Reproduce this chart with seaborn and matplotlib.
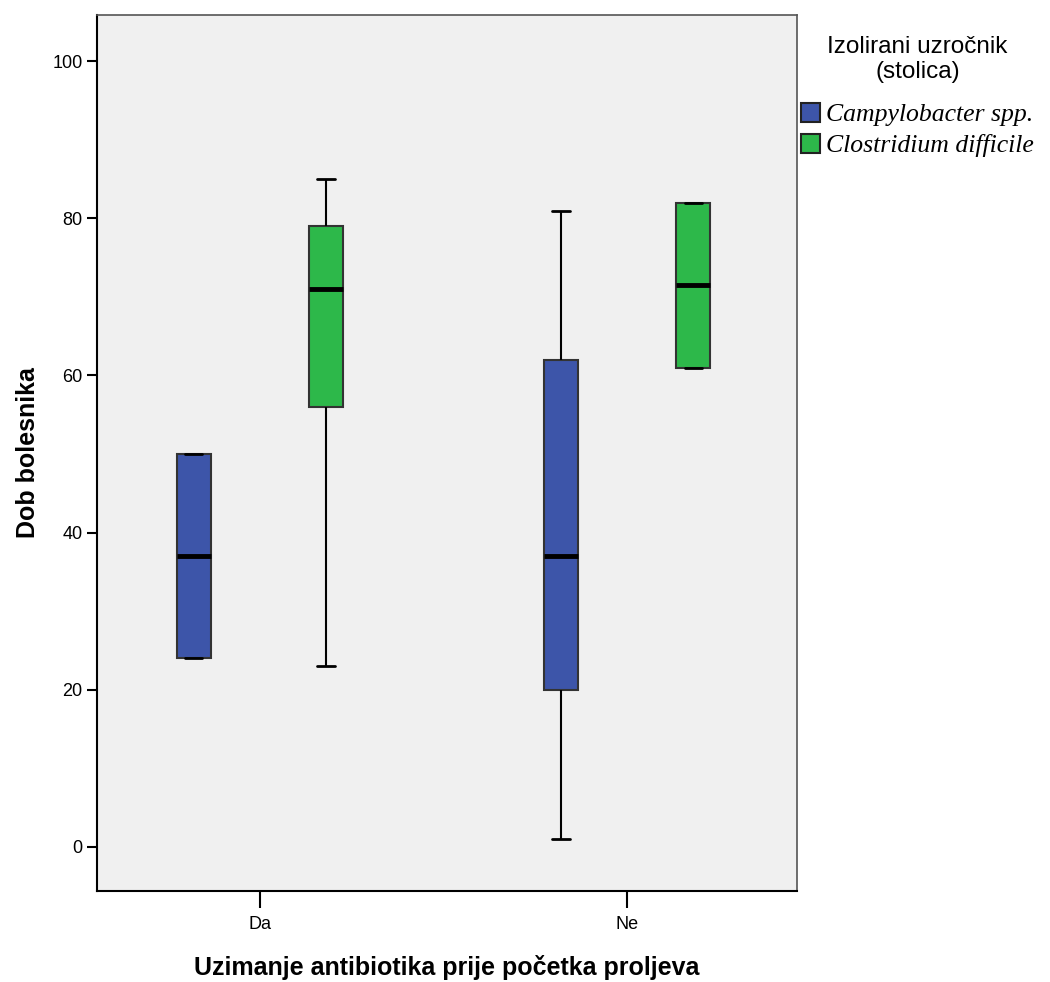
import pandas as pd
import matplotlib
matplotlib.use("Agg")
import matplotlib.pyplot as plt
import seaborn as sns

# raw ages per group (min, q1, median, q3, max)
groups = ["Da", "Ne"]
pathogens = ["Campylobacter spp.", "Clostridium difficile"]
age_da_campy = [24, 24, 37, 50, 50]
age_da_clost = [23, 56, 71, 79, 85]
age_ne_campy = [1, 20, 37, 62, 81]
age_ne_clost = [61, 61, 71.5, 82, 82]
y_ticks = [0, 20, 40, 60, 80, 100]

colors = ["#3d55a9", "#2db84a"]

rows = []
for g, p, vals in [("Da", pathogens[0], age_da_campy), ("Da", pathogens[1], age_da_clost),
                   ("Ne", pathogens[0], age_ne_campy), ("Ne", pathogens[1], age_ne_clost)]:
    for v in vals:
        rows.append({"antibiotik": g, "uzrocnik": p, "dob": v})
df = pd.DataFrame(rows)

sns.set_style("white")
plt.rcParams["font.family"] = ["Liberation Sans", "DejaVu Sans"]
plt.rcParams["text.color"] = "black"
plt.rcParams["axes.labelcolor"] = "black"
plt.rcParams["xtick.color"] = "black"
plt.rcParams["ytick.color"] = "black"

fig = plt.figure(figsize=(10.5, 9.82), dpi=100)
ax = fig.add_axes([97 / 1050, 1 - 891 / 982, 700 / 1050, 876 / 982])
ax.set_facecolor("#f0f0f0")

sns.boxplot(data=df, x="antibiotik", y="dob", hue="uzrocnik", order=groups,
            hue_order=pathogens, palette=colors, width=0.72, gap=0.74,
            whis=(0, 100), saturation=1, ax=ax,
            boxprops=dict(edgecolor="#333333", linewidth=1.5),
            whiskerprops=dict(color="black", linewidth=1.5),
            capprops=dict(color="black", linewidth=2),
            medianprops=dict(color="black", linewidth=3.5))

ax.set_xlim(-0.444, 1.463)
ax.set_ylim(-5.65, 105.9)
ax.set_yticks(y_ticks)
ax.tick_params(axis="y", direction="out", length=7, width=1.5, labelsize=13, left=True)
ax.tick_params(axis="x", direction="out", length=12, width=1.5, labelsize=13, bottom=True, pad=6)

for side in ["left", "bottom"]:
    ax.spines[side].set_color("black")
    ax.spines[side].set_linewidth(1.5)
for side in ["top", "right"]:
    ax.spines[side].set_color("#555555")
    ax.spines[side].set_linewidth(1.2)

ax.set_xlabel("Uzimanje antibiotika prije početka proljeva", fontsize=18, fontweight="bold", labelpad=16)
ax.set_ylabel("Dob bolesnika", fontsize=18, fontweight="bold", labelpad=9)

handles, labels = ax.get_legend_handles_labels()
for h in handles:
    h.set_edgecolor("#222222")
leg = ax.legend(handles, labels, title="Izolirani uzročnik\n(stolica)", loc="upper left",
                bbox_to_anchor=(0.998, 0.982), frameon=False, handlelength=0.75, handleheight=0.75,
                handletextpad=0.25, borderaxespad=0.0, borderpad=0.2, labelspacing=0.3,
                prop=dict(family="Liberation Serif", style="italic", size=18.5))
leg.get_title().set_fontsize(17.5)
leg.get_title().set_multialignment("center")
leg._legend_box.align = "center"
leg._legend_box.sep = 14

fig.savefig("out.png", dpi=100)
